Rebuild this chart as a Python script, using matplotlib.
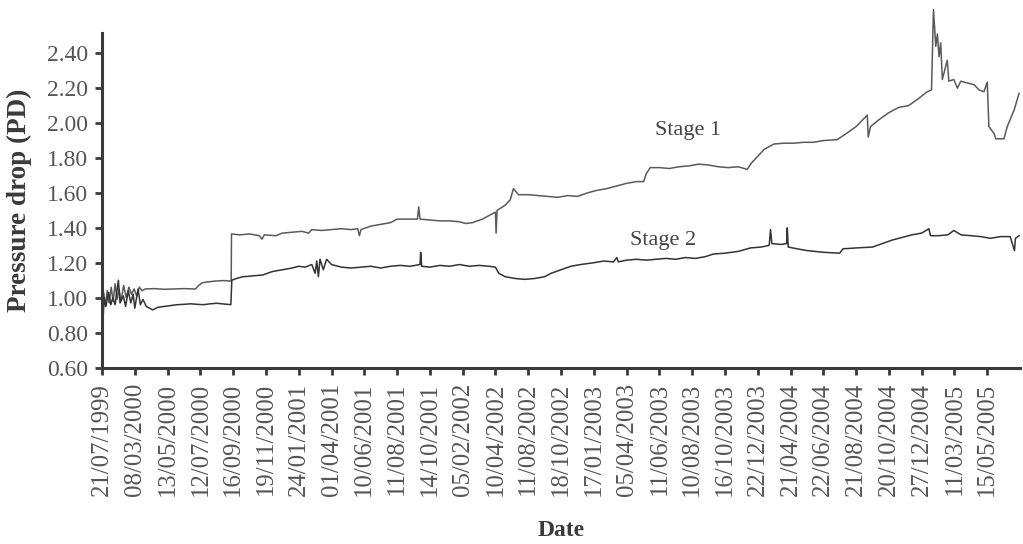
import matplotlib
matplotlib.use("Agg")
import matplotlib.pyplot as plt

# category tick labels (Excel style, evenly spaced)
dates = ["21/07/1999", "08/03/2000", "13/05/2000", "12/07/2000", "16/09/2000",
         "19/11/2000", "24/01/2001", "01/04/2001", "10/06/2001", "11/08/2001",
         "14/10/2001", "05/02/2002", "10/04/2002", "11/08/2002", "18/10/2002",
         "17/01/2003", "05/04/2003", "11/06/2003", "10/08/2003", "16/10/2003",
         "22/12/2003", "21/04/2004", "22/06/2004", "21/08/2004", "20/10/2004",
         "27/12/2004", "11/03/2005", "15/05/2005"]
yticks = [0.60, 0.80, 1.00, 1.20, 1.40, 1.60, 1.80, 2.00, 2.20, 2.40]

# Stage 1 readings (position along date axis, pressure drop)
stage1_x = [0.00, 0.05, 0.10, 0.16, 0.22, 0.28, 0.34, 0.40, 0.46, 0.52, 0.58, 0.66,
            0.74, 0.82, 0.90, 0.98, 1.06, 1.14, 1.22, 1.32, 1.60, 1.90, 2.20, 2.50,
            2.85, 2.95, 3.05, 3.20, 3.45, 3.70, 3.94, 3.95, 4.20, 4.50, 4.80, 4.88,
            4.95, 5.30, 5.50, 5.80, 6.10, 6.30, 6.40, 6.70, 7.00, 7.30, 7.60, 7.80,
            7.85, 7.90, 8.20, 8.50, 8.80, 9.00, 9.30, 9.62, 9.66, 9.70, 10.0, 10.3,
            10.6, 10.9, 11.1, 11.3, 11.6, 11.9, 12.0, 12.02, 12.05, 12.3, 12.45, 12.55,
            12.7, 13.0, 13.3, 13.6, 13.9, 14.2, 14.5, 14.8, 15.1, 15.4, 15.7, 16.0,
            16.3, 16.52, 16.6, 16.72, 17.0, 17.3, 17.6, 17.9, 18.2, 18.5, 18.8, 19.1,
            19.4, 19.68, 19.8, 20.0, 20.2, 20.49, 20.8, 21.1, 21.4, 21.7, 22.0, 22.42,
            22.7, 23.0, 23.34, 23.37, 23.44, 23.7, 24.0, 24.3, 24.6, 24.9, 25.17, 25.30,
            25.36, 25.43, 25.48, 25.53, 25.58, 25.63, 25.78, 25.83, 25.98, 26.09, 26.19,
            26.39, 26.60, 26.75, 26.90, 27.00, 27.05, 27.21, 27.26, 27.51, 27.61, 27.82,
            27.97]
stage1_y = [0.97, 1.03, 0.95, 1.04, 0.97, 1.06, 0.98, 1.08, 0.99, 1.05, 0.98, 1.07,
            1.00, 1.06, 1.02, 1.05, 1.01, 1.06, 1.04, 1.05, 1.052, 1.048, 1.05, 1.052,
            1.05, 1.07, 1.085, 1.09, 1.095, 1.098, 1.095, 1.365, 1.36, 1.365, 1.355, 1.335,
            1.36, 1.355, 1.37, 1.375, 1.38, 1.37, 1.39, 1.385, 1.39, 1.395, 1.39, 1.395,
            1.355, 1.39, 1.41, 1.42, 1.43, 1.45, 1.45, 1.45, 1.52, 1.45, 1.445, 1.44,
            1.44, 1.435, 1.425, 1.43, 1.45, 1.48, 1.49, 1.37, 1.50, 1.53, 1.56, 1.625,
            1.59, 1.59, 1.585, 1.58, 1.575, 1.585, 1.58, 1.60, 1.615, 1.625, 1.64, 1.655,
            1.665, 1.665, 1.71, 1.745, 1.745, 1.74, 1.75, 1.755, 1.765, 1.76, 1.75, 1.745,
            1.75, 1.735, 1.77, 1.81, 1.85, 1.88, 1.885, 1.885, 1.89, 1.89, 1.90, 1.905,
            1.94, 1.98, 2.045, 1.92, 1.98, 2.02, 2.06, 2.09, 2.10, 2.14, 2.18, 2.19,
            2.65, 2.44, 2.51, 2.38, 2.46, 2.25, 2.36, 2.24, 2.25, 2.20, 2.24,
            2.23, 2.22, 2.19, 2.18, 2.235, 1.98, 1.94, 1.91, 1.91, 1.98, 2.075,
            2.17]

# Stage 2 readings
stage2_x = [0.00, 0.03, 0.06, 0.12, 0.20, 0.27, 0.33, 0.40, 0.50, 0.55, 0.65, 0.72,
            0.80, 0.88, 0.95, 1.00, 1.10, 1.17, 1.25, 1.35, 1.45, 1.55, 1.70, 1.90,
            2.10, 2.30, 2.50, 2.70, 2.90, 3.10, 3.30, 3.50, 3.70, 3.93, 3.96, 4.10,
            4.30, 4.60, 4.90, 5.20, 5.50, 5.80, 6.00, 6.20, 6.40, 6.50, 6.55, 6.60,
            6.65, 6.75, 6.85, 7.00, 7.30, 7.60, 7.90, 8.20, 8.50, 8.80, 9.10, 9.40,
            9.70, 9.72, 9.75, 10.0, 10.3, 10.6, 10.9, 11.2, 11.5, 11.8, 12.0, 12.1,
            12.3, 12.6, 12.9, 13.2, 13.5, 13.7, 14.0, 14.3, 14.6, 14.99, 15.3, 15.6,
            15.7, 15.75, 16.0, 16.3, 16.6, 16.9, 17.2, 17.5, 17.8, 18.1, 18.4, 18.65,
            19.0, 19.4, 19.78, 20.1, 20.35, 20.39, 20.43, 20.7, 20.88, 20.9, 20.93, 21.2,
            21.5, 22.0, 22.5, 22.6, 23.0, 23.5, 24.1, 24.4, 24.7, 25.0, 25.22, 25.27,
            25.5, 25.8, 25.98, 26.2, 26.5, 26.8, 27.1, 27.4, 27.7, 27.83, 27.86, 27.97]
stage2_y = [0.96, 0.85, 1.00, 0.95, 1.03, 0.96, 1.00, 0.96, 1.10, 0.97, 1.01, 0.95,
            1.04, 0.97, 1.02, 0.94, 1.05, 0.96, 0.99, 0.95, 0.94, 0.93, 0.945, 0.95,
            0.955, 0.96, 0.962, 0.965, 0.962, 0.96, 0.965, 0.968, 0.964, 0.96, 1.10, 1.11,
            1.12, 1.125, 1.13, 1.15, 1.16, 1.17, 1.18, 1.175, 1.19, 1.14, 1.21, 1.12,
            1.22, 1.16, 1.22, 1.19, 1.175, 1.17, 1.175, 1.18, 1.17, 1.18, 1.185, 1.18,
            1.19, 1.26, 1.18, 1.175, 1.185, 1.18, 1.19, 1.18, 1.185, 1.18, 1.175, 1.14,
            1.12, 1.11, 1.105, 1.11, 1.12, 1.14, 1.16, 1.18, 1.19, 1.20, 1.21, 1.205,
            1.23, 1.205, 1.215, 1.22, 1.215, 1.22, 1.225, 1.22, 1.23, 1.225, 1.235, 1.25,
            1.255, 1.265, 1.285, 1.29, 1.30, 1.39, 1.31, 1.305, 1.31, 1.40, 1.29, 1.28,
            1.27, 1.26, 1.255, 1.28, 1.285, 1.29, 1.33, 1.345, 1.36, 1.37, 1.395, 1.355,
            1.355, 1.36, 1.385, 1.36, 1.355, 1.35, 1.34, 1.35, 1.35, 1.27, 1.34, 1.355]

plt.rcParams['font.family'] = ['Liberation Serif', 'DejaVu Serif']

fig = plt.figure(figsize=(10.23, 5.44), dpi=100)
ax = fig.add_axes([0.0997, 0.3244, 0.8974, 0.6149])

ax.plot(stage1_x, stage1_y, color='#5a5a5a', lw=1.1, clip_on=False)
ax.plot(stage2_x, stage2_y, color='#333333', lw=1.1, clip_on=False)

ax.text(17.88, 1.955, 'Stage 1', fontsize=16, color='#444444', ha='center', va='center')
ax.text(17.12, 1.325, 'Stage 2', fontsize=16, color='#444444', ha='center', va='center')

ax.set_xlim(0, 28)
ax.set_ylim(0.6, 2.516)
ax.set_xticks(range(len(dates)))
ax.set_xticklabels(dates, rotation=90, fontsize=17.8, color='#555555')
ax.set_yticks(yticks)
ax.set_yticklabels(['%.2f' % v for v in yticks], fontsize=17, color='#555555')

for s in ['top', 'right']:
    ax.spines[s].set_visible(False)
for s in ['left', 'bottom']:
    ax.spines[s].set_linewidth(2.2)
    ax.spines[s].set_color('#3a3a3a')
ax.tick_params(axis='y', direction='out', length=5, width=2, color='#3a3a3a', pad=5)
ax.tick_params(axis='x', direction='out', length=5, width=2, color='#3a3a3a', pad=6)

ax.set_ylabel('Pressure drop (PD)', fontsize=19.5, fontweight='bold', color='#3a3a3a')
ax.set_xlabel('Date', fontsize=17, fontweight='bold', color='#3a3a3a')
ax.yaxis.set_label_coords(-0.076, 0.5)
ax.xaxis.set_label_coords(0.5, -0.455)

fig.savefig('out.png', dpi=100)
